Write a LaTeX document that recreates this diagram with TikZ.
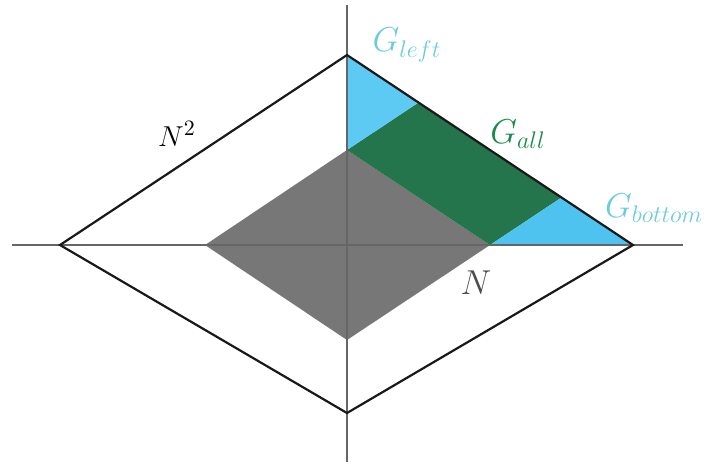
\documentclass[tikz,border=0pt]{standalone}
\usetikzlibrary{calc}
\definecolor{regblue}{HTML}{5CCAF2}
\definecolor{regblueb}{HTML}{4FC3F0}
\definecolor{reggreen}{HTML}{24754C}
\definecolor{txtgreen}{HTML}{178A4C}
\definecolor{txtblue}{HTML}{6CCBDC}
\definecolor{reggray}{HTML}{777777}
\begin{document}
\begin{tikzpicture}[
        x=0.5pt, y=-0.5pt,
        axis/.style={draw=black!60, line width=0.6pt},
        border/.style={draw=black!90, line width=1.1pt, line join=miter},
        lbl/.style={inner sep=0pt, font=\fontsize{17}{20}\selectfont},
        small lbl/.style={inner sep=0pt, font=\fontsize{15}{18}\selectfont}
    ]
        \useasboundingbox (0,0) rectangle (704,463);
        % Outer diamond
        \coordinate (oL) at (60,245);
        \coordinate (oT) at (347,55);
        \coordinate (oR) at (633,245);
        \coordinate (oB) at (347,413);
        % Inner diamond
        \coordinate (iL) at (205,245);
        \coordinate (iT) at (347,150);
        \coordinate (iR) at (490,245);
        \coordinate (iB) at (347,340);
        % Band corners on the outer edge
        \coordinate (eA) at ($(oT)!0.25!(oR)$);
        \coordinate (eB) at ($(oT)!0.75!(oR)$);

        % Regions
        \fill[reggray] (iL) -- (iT) -- (iR) -- (iB) -- cycle;
        \fill[reggreen] (iT) -- (eA) -- (eB) -- (iR) -- cycle;
        \fill[regblue] (oT) -- (eA) -- (iT) -- cycle;
        \fill[regblueb] (iR) -- (eB) -- (oR) -- cycle;

        % Axes
        \coordinate (xa) at (12,245);
        \coordinate (xb) at (683,245);
        \coordinate (ya) at (347,5);
        \coordinate (yb) at (347,462);
        \draw[axis] (xa) -- (xb);
        \draw[axis] (ya) -- (yb);

        % Outline
        \draw[border] (oL) -- (oT) -- (oR) -- (oB) -- cycle;

        % Labels
        \node[lbl, text=txtblue] (gleft) at (407,45) {$G_{left}$};
        \node[lbl, text=txtgreen] (gall) at (518,134) {$G_{all}$};
        \node[lbl, text=txtblue] (gbottom) at (654,208) {$G_{bottom}$};
        \node[small lbl, text=black] (nsq) at (177,134) {$N^2$};
        \node[lbl, text=black!70] (nlbl) at (476,283) {$N$};
    \end{tikzpicture}
\end{document}
